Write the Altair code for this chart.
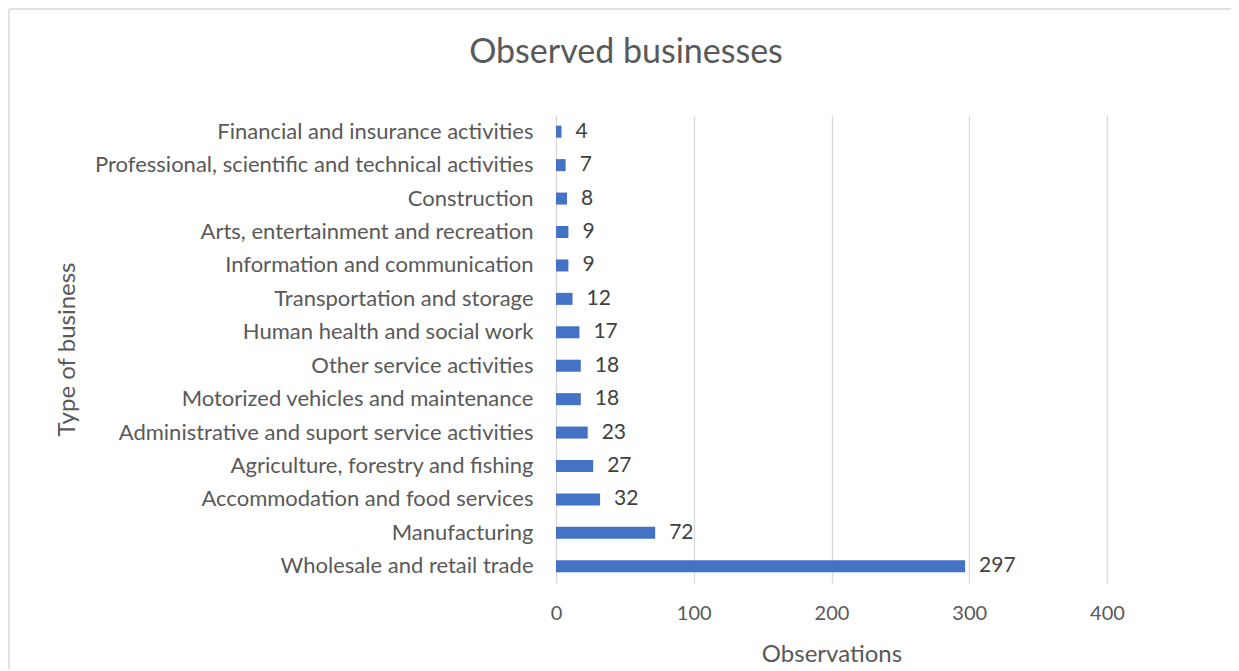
import altair as alt
import pandas as pd

chart_title = "Observed businesses"
categories = [
    "Financial and insurance activities",
    "Professional, scientific and technical activities",
    "Construction",
    "Arts, entertainment and recreation",
    "Information and communication",
    "Transportation and storage",
    "Human health and social work",
    "Other service activities",
    "Motorized vehicles and maintenance",
    "Administrative and suport service activities",
    "Agriculture, forestry and fishing",
    "Accommodation and food services",
    "Manufacturing",
    "Wholesale and retail trade",
]
observations = [4, 7, 8, 9, 9, 12, 17, 18, 18, 23, 27, 32, 72, 297]
x_ticks = [0, 100, 200, 300, 400]

df = pd.DataFrame({"Type": categories, "Observations": observations})
title_df = pd.DataFrame({"t": [chart_title]})

FONT = "Lato"
GREY = "#595959"
W, H = 551, 468

y_enc = alt.Y(
    "Type:N",
    sort=categories,
    scale=alt.Scale(paddingInner=0.64, paddingOuter=0.32),
    axis=alt.Axis(
        title="Type of business",
        titleFont=FONT, titleFontSize=24, titleFontWeight="normal", titleColor=GREY,
        titleAngle=-90, titleX=-489, titleY=H / 2, titleAlign="center", titleBaseline="middle",
        labelFont=FONT, labelFontSize=22, labelColor=GREY, labelPadding=23, labelLimit=600,
        ticks=False, domain=False, grid=False,
    ),
)

x_enc = alt.X(
    "Observations:Q",
    scale=alt.Scale(domain=[0, 400], nice=False),
    axis=alt.Axis(
        values=x_ticks,
        title="Observations",
        titleFont=FONT, titleFontSize=24, titleFontWeight="normal", titleColor=GREY,
        titleY=71, titleBaseline="middle",
        labelFont=FONT, labelFontSize=20, labelColor=GREY, labelPadding=20, labelFlush=False,
        ticks=False, domain=False, grid=True, gridColor="#d9d9d9", gridWidth=1.3,
    ),
)

bars = alt.Chart(df).mark_bar(color="#4472C4").encode(x=x_enc, y=y_enc)

labels = alt.Chart(df).mark_text(
    align="left", baseline="middle", dx=14, font=FONT, fontSize=21, color="#404040"
).encode(
    x=x_enc,
    y=y_enc,
    text=alt.Text("Observations:Q"),
)

title_mark = alt.Chart(title_df).mark_text(
    align="center", baseline="middle", font=FONT, fontSize=34, color=GREY
).encode(x=alt.value(70), y=alt.value(-62), text="t:N")

border_left = alt.Chart(title_df).mark_rule(color="#d9d9d9", strokeWidth=1.5).encode(
    x=alt.value(-547), y=alt.value(-106), y2=alt.value(700)
)
border_top = alt.Chart(title_df).mark_rule(color="#d9d9d9", strokeWidth=1.5).encode(
    x=alt.value(-547), x2=alt.value(800), y=alt.value(-106)
)

chart = (
    alt.layer(border_left, border_top, bars, labels, title_mark)
    .properties(
        width=W,
        height=H,
        view=alt.ViewBackground(stroke="transparent", strokeWidth=0),
        autosize=alt.AutoSizeParams(type="none"),
        padding={"left": 548, "top": 107, "right": 124, "bottom": 86},
    )
    .configure_view(strokeWidth=0, stroke="transparent")
    .configure(background="white")
)

chart.save("out.html", embed_options={"renderer": "svg", "actions": False})
